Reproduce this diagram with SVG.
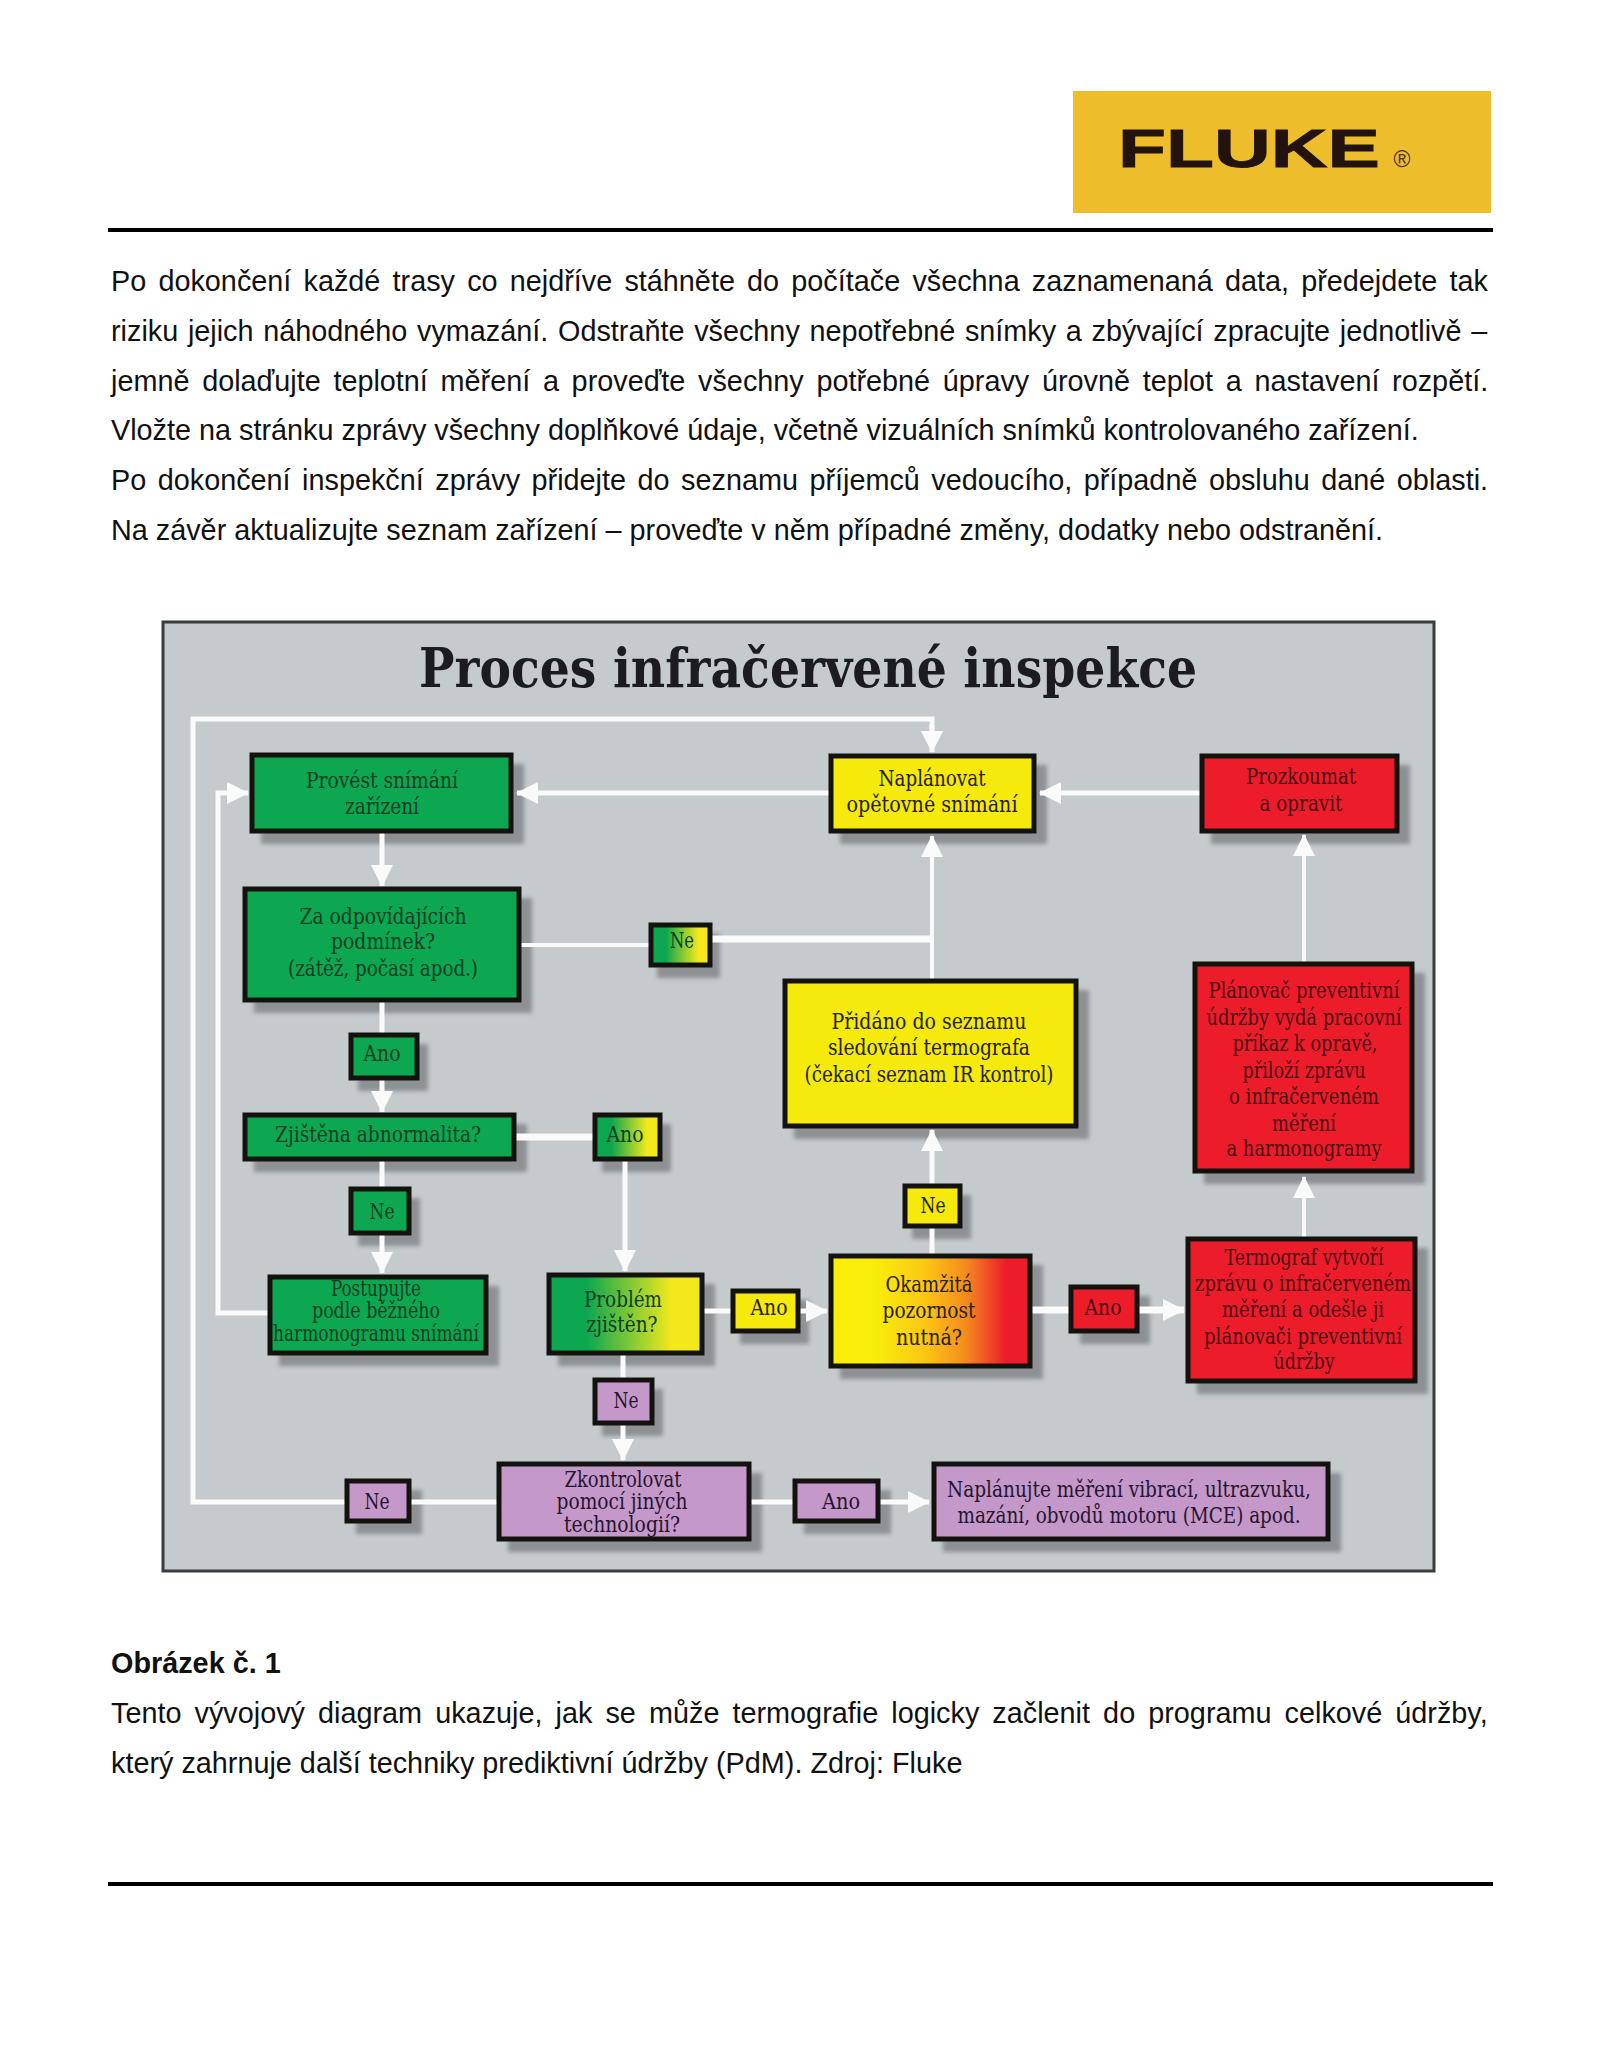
<svg xmlns="http://www.w3.org/2000/svg" width="1600" height="2071" viewBox="0 0 1600 2071">
<style>
.b{font:28.8px "Liberation Sans",Arial,sans-serif;fill:#111}
.h{font-weight:bold}
.rule{fill:#000}
.s{fill:#8d9194}
.n{stroke:#14120f;stroke-width:5}
.g{fill:#0ca750}.y{fill:#f5ea0c}.r{fill:#ec1c2b}.p{fill:#c598ca}
.t{font:23px "DejaVu Serif Condensed","DejaVu Serif",serif;text-anchor:middle}
.tg{fill:#0a3f25}.ty{fill:#26220c}.tr{fill:#4e0c12}.tp{fill:#26142f}
.c{fill:none;stroke:#fafafa;stroke-width:5}
.w4{stroke-width:4}.w7{stroke-width:7}
.ca{marker-end:url(#ah)}
</style>
<defs>
<filter id="bl" x="-10%" y="-10%" width="120%" height="120%"><feGaussianBlur stdDeviation="2"/></filter>
<linearGradient id="gy"><stop offset=".25" stop-color="#0ca750"/><stop offset=".8" stop-color="#f2e81c"/></linearGradient>
<linearGradient id="yr"><stop offset=".22" stop-color="#f8ee0a"/><stop offset=".48" stop-color="#fcc514"/><stop offset=".68" stop-color="#f58a1e"/><stop offset=".88" stop-color="#ec1c2b"/></linearGradient>
<marker id="ah" markerUnits="userSpaceOnUse" markerWidth="24" markerHeight="24" refX="21" refY="11" orient="auto"><path d="M0 0L22 11L0 22z" fill="#fafafa"/></marker>
</defs>
<rect width="1600" height="2071" fill="#fff"/>
<g id="logo">
<rect x="1073" y="91" width="418" height="122" fill="#eebd2c"/>
<text x="1118" y="167" font-family="Liberation Sans,sans-serif" font-weight="bold" font-size="54" textLength="262" lengthAdjust="spacingAndGlyphs" fill="#23130f" stroke="#23130f" stroke-width=".8">FLUKE</text>
<text x="1402" y="167" font-family="Liberation Sans,sans-serif" font-size="23" text-anchor="middle" fill="#4a3315">®</text>
</g>
<rect class="rule" x="108" y="228" width="1385" height="4"/>
<g id="body">
<text class="b" x="111" y="291" word-spacing="4.2">Po dokončení každé trasy co nejdříve stáhněte do počítače všechna zaznamenaná data, předejdete tak</text>
<text class="b" x="111" y="341" word-spacing="1.7">riziku jejich náhodného vymazání. Odstraňte všechny nepotřebné snímky a zbývající zpracujte jednotlivě –</text>
<text class="b" x="111" y="391" word-spacing="4.7">jemně dolaďujte teplotní měření a proveďte všechny potřebné úpravy úrovně teplot a nastavení rozpětí.</text>
<text class="b" x="111" y="440">Vložte na stránku zprávy všechny doplňkové údaje, včetně vizuálních snímků kontrolovaného zařízení.</text>
<text class="b" x="111" y="490" word-spacing="3.5">Po dokončení inspekční zprávy přidejte do seznamu příjemců vedoucího, případně obsluhu dané oblasti.</text>
<text class="b" x="111" y="540">Na závěr aktualizujte seznam zařízení – proveďte v něm případné změny, dodatky nebo odstranění.</text>
</g>
<g id="panel">
<rect x="163" y="622" width="1271" height="949" fill="#c5cacd" stroke="#3a3d3d" stroke-width="3"/>
<text x="419" y="687" font-family="DejaVu Serif,serif" font-weight="bold" font-size="55" textLength="778" lengthAdjust="spacingAndGlyphs" fill="#1c1c20">Proces infračervené inspekce</text>
</g>
<g id="shadows" filter="url(#bl)">
<rect class="s" x="261" y="764" width="263" height="80"/>
<rect class="s" x="254" y="898" width="278" height="115"/>
<rect class="s" x="657" y="934" width="63" height="44"/>
<rect class="s" x="358" y="1044" width="70" height="47"/>
<rect class="s" x="254" y="1124" width="273" height="48"/>
<rect class="s" x="602" y="1124" width="69" height="48"/>
<rect class="s" x="358" y="1198" width="62" height="48"/>
<rect class="s" x="279" y="1286" width="220" height="80"/>
<rect class="s" x="558" y="1284" width="157" height="82"/>
<rect class="s" x="740" y="1300" width="69" height="44"/>
<rect class="s" x="602" y="1389" width="61" height="47"/>
<rect class="s" x="508" y="1473" width="254" height="79"/>
<rect class="s" x="356" y="1490" width="66" height="44"/>
<rect class="s" x="804" y="1490" width="87" height="44"/>
<rect class="s" x="943" y="1473" width="398" height="79"/>
<rect class="s" x="840" y="1265" width="203" height="114"/>
<rect class="s" x="1080" y="1296" width="70" height="48"/>
<rect class="s" x="1197" y="1248" width="231" height="146"/>
<rect class="s" x="1204" y="973" width="221" height="211"/>
<rect class="s" x="912" y="1195" width="59" height="44"/>
<rect class="s" x="794" y="990" width="295" height="149"/>
<rect class="s" x="840" y="765" width="207" height="79"/>
<rect class="s" x="1211" y="765" width="199" height="79"/>
</g>
<g id="connectors">
<path class="c" d="M497 1502H193V719H932V729"/><path class="c ca" d="M932 725V752"/>
<path class="c ca" d="M268 1313H218V793H248"/>
<path class="c ca" d="M829 793H517"/>
<path class="c ca" d="M1200 793H1040"/>
<path class="c ca" d="M382 833V886"/>
<path class="c w4" d="M521 945H649"/>
<path class="c w7" d="M712 939H932"/>
<path class="c w4 ca" d="M932 979V836"/>
<path class="c w4 ca" d="M1304 962V835"/>
<path class="c ca" d="M382 1002V1112"/>
<path class="c w7" d="M516 1137H593"/>
<path class="c ca" d="M625 1161V1271"/>
<path class="c ca" d="M382 1161V1273"/>
<path class="c" d="M704 1311H731"/>
<path class="c ca" d="M800 1311H827"/>
<path class="c ca" d="M623 1355V1460"/>
<path class="c ca" d="M932 1254V1130"/>
<path class="c w7" d="M1032 1310H1069"/>
<path class="c w7 ca" d="M1138 1310H1184"/>
<path class="c w4 ca" d="M1304 1237V1177"/>
<path class="c" d="M750 1502H793"/>
<path class="c ca" d="M880 1502H929"/>
</g>
<g id="n-provest"><rect class="n g" x="252" y="755" width="259" height="76"/><text class="t tg" x="382" y="788" textLength="152" lengthAdjust="spacingAndGlyphs">Provést snímání</text><text class="t tg" x="382" y="814" textLength="74" lengthAdjust="spacingAndGlyphs">zařízení</text></g>
<g id="n-podminky"><rect class="n g" x="245" y="889" width="274" height="111"/><text class="t tg" x="383" y="924" textLength="167" lengthAdjust="spacingAndGlyphs">Za odpovídajících</text><text class="t tg" x="383" y="949" textLength="104" lengthAdjust="spacingAndGlyphs">podmínek?</text><text class="t tg" x="383" y="976" textLength="190" lengthAdjust="spacingAndGlyphs">(zátěž, počasí apod.)</text></g>
<g id="n-ne1"><rect class="n" fill="url(#gy)" x="651" y="925" width="59" height="40"/><text class="t tg" x="682" y="948" textLength="24" lengthAdjust="spacingAndGlyphs">Ne</text></g>
<g id="n-ano1"><rect class="n g" x="351" y="1035" width="66" height="43"/><text class="t tg" x="382" y="1061" textLength="37" lengthAdjust="spacingAndGlyphs">Ano</text></g>
<g id="n-abnormalita"><rect class="n g" x="245" y="1115" width="269" height="44"/><text class="t tg" x="378" y="1142" textLength="206" lengthAdjust="spacingAndGlyphs">Zjištěna abnormalita?</text></g>
<g id="n-ano2"><rect class="n" fill="url(#gy)" x="595" y="1115" width="65" height="44"/><text class="t tg" x="625" y="1142" textLength="37" lengthAdjust="spacingAndGlyphs">Ano</text></g>
<g id="n-ne2"><rect class="n g" x="351" y="1189" width="58" height="44"/><text class="t tg" x="382" y="1219" textLength="25" lengthAdjust="spacingAndGlyphs">Ne</text></g>
<g id="n-postupujte"><rect class="n g" x="270" y="1277" width="216" height="76"/><text class="t tg" x="376" y="1296" textLength="90" lengthAdjust="spacingAndGlyphs">Postupujte</text><text class="t tg" x="376" y="1318" textLength="128" lengthAdjust="spacingAndGlyphs">podle běžného</text><text class="t tg" x="376" y="1341" textLength="206" lengthAdjust="spacingAndGlyphs">harmonogramu snímání</text></g>
<g id="n-problem"><rect class="n" fill="url(#gy)" x="549" y="1275" width="153" height="78"/><text class="t tg" x="623" y="1307" textLength="78" lengthAdjust="spacingAndGlyphs">Problém</text><text class="t tg" x="622" y="1332" textLength="71" lengthAdjust="spacingAndGlyphs">zjištěn?</text></g>
<g id="n-ano3"><rect class="n y" x="733" y="1291" width="65" height="40"/><text class="t ty" x="769" y="1315" textLength="37" lengthAdjust="spacingAndGlyphs">Ano</text></g>
<g id="n-ne3"><rect class="n p" x="595" y="1380" width="57" height="43"/><text class="t tp" x="626" y="1408" textLength="25" lengthAdjust="spacingAndGlyphs">Ne</text></g>
<g id="n-zkontrolovat"><rect class="n p" x="499" y="1464" width="250" height="75"/><text class="t tp" x="623" y="1487" textLength="117" lengthAdjust="spacingAndGlyphs">Zkontrolovat</text><text class="t tp" x="622" y="1509" textLength="131" lengthAdjust="spacingAndGlyphs">pomocí jiných</text><text class="t tp" x="622" y="1532" textLength="116" lengthAdjust="spacingAndGlyphs">technologií?</text></g>
<g id="n-ne4"><rect class="n p" x="347" y="1481" width="62" height="40"/><text class="t tp" x="377" y="1509" textLength="25" lengthAdjust="spacingAndGlyphs">Ne</text></g>
<g id="n-ano4"><rect class="n p" x="795" y="1481" width="83" height="40"/><text class="t tp" x="841" y="1509" textLength="38" lengthAdjust="spacingAndGlyphs">Ano</text></g>
<g id="n-naplanujte"><rect class="n p" x="934" y="1464" width="394" height="75"/><text class="t tp" x="1129" y="1497" textLength="364" lengthAdjust="spacingAndGlyphs">Naplánujte měření vibrací, ultrazvuku,</text><text class="t tp" x="1129" y="1523" textLength="343" lengthAdjust="spacingAndGlyphs">mazání, obvodů motoru (MCE) apod.</text></g>
<g id="n-okamzita"><rect class="n" fill="url(#yr)" x="831" y="1256" width="199" height="110"/><text class="t ty" x="929" y="1292" textLength="87" lengthAdjust="spacingAndGlyphs">Okamžitá</text><text class="t ty" x="929" y="1318" textLength="93" lengthAdjust="spacingAndGlyphs">pozornost</text><text class="t ty" x="929" y="1345" textLength="66" lengthAdjust="spacingAndGlyphs">nutná?</text></g>
<g id="n-ano5"><rect class="n r" x="1071" y="1287" width="66" height="44"/><text class="t tr" x="1103" y="1315" textLength="37" lengthAdjust="spacingAndGlyphs">Ano</text></g>
<g id="n-termograf"><rect class="n r" x="1188" y="1239" width="227" height="142"/><text class="t tr" x="1304" y="1265" textLength="159" lengthAdjust="spacingAndGlyphs">Termograf vytvoří</text><text class="t tr" x="1303" y="1291" textLength="216" lengthAdjust="spacingAndGlyphs">zprávu o infračerveném</text><text class="t tr" x="1303" y="1317" textLength="162" lengthAdjust="spacingAndGlyphs">měření a odešle ji</text><text class="t tr" x="1303" y="1344" textLength="198" lengthAdjust="spacingAndGlyphs">plánovači preventivní</text><text class="t tr" x="1304" y="1369" textLength="61" lengthAdjust="spacingAndGlyphs">údržby</text></g>
<g id="n-planovac"><rect class="n r" x="1195" y="964" width="217" height="207"/><text class="t tr" x="1304" y="998" textLength="191" lengthAdjust="spacingAndGlyphs">Plánovač preventivní</text><text class="t tr" x="1304" y="1025" textLength="195" lengthAdjust="spacingAndGlyphs">údržby vydá pracovní</text><text class="t tr" x="1305" y="1051" textLength="145" lengthAdjust="spacingAndGlyphs">příkaz k opravě,</text><text class="t tr" x="1304" y="1078" textLength="123" lengthAdjust="spacingAndGlyphs">přiloží zprávu</text><text class="t tr" x="1304" y="1104" textLength="150" lengthAdjust="spacingAndGlyphs">o infračerveném</text><text class="t tr" x="1304" y="1131" textLength="64" lengthAdjust="spacingAndGlyphs">měření</text><text class="t tr" x="1304" y="1156" textLength="155" lengthAdjust="spacingAndGlyphs">a harmonogramy</text></g>
<g id="n-ne5"><rect class="n y" x="905" y="1186" width="55" height="40"/><text class="t ty" x="933" y="1213" textLength="25" lengthAdjust="spacingAndGlyphs">Ne</text></g>
<g id="n-pridano"><rect class="n y" x="785" y="981" width="291" height="145"/><text class="t ty" x="929" y="1029" textLength="195" lengthAdjust="spacingAndGlyphs">Přidáno do seznamu</text><text class="t ty" x="929" y="1055" textLength="202" lengthAdjust="spacingAndGlyphs">sledování termografa</text><text class="t ty" x="929" y="1082" textLength="249" lengthAdjust="spacingAndGlyphs">(čekací seznam IR kontrol)</text></g>
<g id="n-naplanovat"><rect class="n y" x="831" y="756" width="203" height="75"/><text class="t ty" x="932" y="786" textLength="107" lengthAdjust="spacingAndGlyphs">Naplánovat</text><text class="t ty" x="932" y="812" textLength="171" lengthAdjust="spacingAndGlyphs">opětovné snímání</text></g>
<g id="n-prozkoumat"><rect class="n r" x="1202" y="756" width="195" height="75"/><text class="t tr" x="1301" y="784" textLength="110" lengthAdjust="spacingAndGlyphs">Prozkoumat</text><text class="t tr" x="1301" y="811" textLength="83" lengthAdjust="spacingAndGlyphs">a opravit</text></g>
<g id="caption">
<text class="b h" x="111" y="1673">Obrázek č. 1</text>
<text class="b" x="111" y="1723" word-spacing="5.1">Tento vývojový diagram ukazuje, jak se může termografie logicky začlenit do programu celkové údržby,</text>
<text class="b" x="111" y="1773">který zahrnuje další techniky prediktivní údržby (PdM). Zdroj: Fluke</text>
</g>
<rect class="rule" x="108" y="1882" width="1385" height="4"/>
</svg>
